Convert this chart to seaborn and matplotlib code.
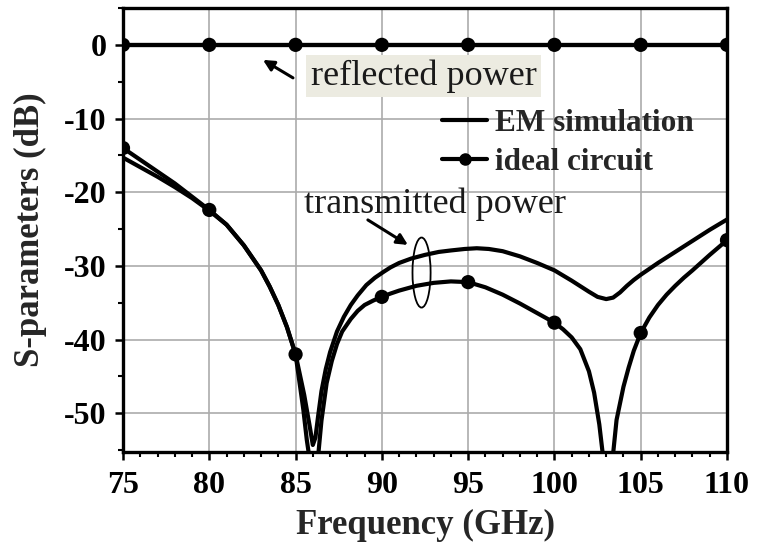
import matplotlib
matplotlib.use("Agg")
import matplotlib.pyplot as plt
import seaborn as sns
from matplotlib.patches import Ellipse
from matplotlib.lines import Line2D
from matplotlib.ticker import MultipleLocator

# ---------------- data ----------------
# EM simulation, transmitted power
freq_em = [75, 76, 77, 78, 79, 80, 81, 82, 83, 83.5, 84, 84.5, 85, 85.5, 85.8,
           86.0, 86.15, 86.3, 86.5, 86.75, 87.0, 87.4, 87.8, 88.2, 88.6, 89.1,
           89.6, 90.1, 90.5, 91.0, 91.7, 92.5, 93.3, 94.0, 94.8, 95.5, 96.2,
           97.0, 98.0, 99.0, 100.0, 101.0, 102.0, 102.5, 103.0, 103.4, 103.8,
           104.2, 104.6, 105.0, 106.0, 107.0, 108.0, 109.0, 110.0]
s21_em = [-15.3, -16.6, -17.9, -19.3, -20.8, -22.5, -24.4, -27.2, -30.6, -32.8,
          -35.3, -38.3, -42.0, -47.5, -51.5, -54.3, -53.3, -50.5, -47.0, -44.0,
          -41.7, -38.9, -36.9, -35.3, -34.0, -32.6, -31.6, -30.8, -30.2, -29.6,
          -29.0, -28.5, -28.1, -27.9, -27.7, -27.6, -27.7, -28.0, -28.7, -29.6,
          -30.6, -32.0, -33.5, -34.2, -34.5, -34.3, -33.6, -32.7, -31.9, -31.2,
          -29.6, -28.1, -26.6, -25.1, -23.7]

# ideal circuit, transmitted power
freq_ideal = [75, 76, 77, 78, 79, 80, 81, 82, 83, 83.5, 84, 84.5, 85, 85.45,
              85.65, 85.8, 86.05, 86.3, 86.5, 86.8, 87.1, 87.4, 87.7, 88.2,
              88.6, 89.0, 89.5, 90.0, 90.5, 91.0, 92.0, 93.0, 94.0, 95.0, 96.0,
              97.0, 98.0, 99.0, 100.0, 100.5, 101.0, 101.5, 102.0, 102.3,
              102.6, 102.8, 103.1, 103.4, 103.6, 104.0, 104.3, 104.6, 105.0,
              105.5, 106.0, 106.5, 107.0, 107.5, 108.0, 108.5, 109.0, 109.5,
              110.0]
s21_ideal = [-14.0, -15.6, -17.2, -18.8, -20.6, -22.4, -24.4, -27.2, -30.6,
             -32.8, -35.3, -38.3, -42.0, -49.5, -53.6, -56.0, -65.0, -56.0,
             -51.0, -45.9, -42.9, -40.6, -38.9, -37.2, -36.1, -35.3, -34.7,
             -34.2, -33.75, -33.35, -32.7, -32.3, -32.1, -32.2, -32.9, -33.9,
             -35.1, -36.4, -37.7, -38.6, -39.7, -41.3, -44.3, -47.2, -51.5,
             -55.5, -65.0, -55.5, -50.9, -46.4, -43.8, -41.5, -39.1, -37.0,
             -35.3, -33.9, -32.7, -31.6, -30.6, -29.55, -28.5, -27.5, -26.5]

# marker positions of the ideal circuit
freq_marks = [75, 80, 85, 90, 95, 100, 105, 110]
s21_ideal_marks = [-14.0, -22.4, -42.0, -34.2, -32.2, -37.7, -39.1, -26.5]
s11_ideal_marks = [0.0, 0.0, 0.0, 0.0, 0.0, 0.0, 0.0, 0.0]

# reflected power
freq_refl = [75, 110]
s11_em = [0.0, 0.0]
s11_ideal = [0.0, 0.0]

xtick_vals = [75, 80, 85, 90, 95, 100, 105, 110]
xtick_labels = ["75", "80", "85", "90", "95", "100", "105", "110"]
ytick_vals = [0, -10, -20, -30, -40, -50]
ytick_labels = ["0", "-10", "-20", "-30", "-40", "-50"]

legend_labels = ["EM simulation", "ideal circuit"]

# ---------------- style ----------------
sns.set_style("ticks")
plt.rcParams["font.family"] = ["Liberation Serif", "DejaVu Serif"]
plt.rcParams["axes.unicode_minus"] = False

W, H = 757, 545
fig = plt.figure(figsize=(W / 100, H / 100), dpi=100)
ax = fig.add_axes([123 / W, 1 - 452 / H, (727 - 123) / W, (452 - 8) / H])

LW = 3.0
sns.lineplot(x=freq_refl, y=s11_em, ax=ax, color="black", lw=LW,
             sort=False, estimator=None, zorder=3)
sns.lineplot(x=freq_refl, y=s11_ideal, ax=ax, color="black", lw=LW,
             sort=False, estimator=None, zorder=3)
sns.scatterplot(x=freq_marks, y=s11_ideal_marks, ax=ax, color="black",
                s=105, edgecolor="none", zorder=4)

sns.lineplot(x=freq_em, y=s21_em, ax=ax, color="black", lw=LW,
             sort=False, estimator=None, zorder=3)
sns.lineplot(x=freq_ideal, y=s21_ideal, ax=ax, color="black", lw=LW,
             sort=False, estimator=None, zorder=3)
sns.scatterplot(x=freq_marks, y=s21_ideal_marks, ax=ax, color="black",
                s=105, edgecolor="none", zorder=4)

ax.set_xlim(75, 110)
ax.set_ylim(-55.25, 5.0)

ax.set_xticks(xtick_vals)
ax.set_xticklabels(xtick_labels, fontweight="bold")
ax.set_yticks(ytick_vals)
ax.set_yticklabels(ytick_labels, fontweight="bold")
ax.xaxis.set_minor_locator(MultipleLocator(1))
ax.yaxis.set_minor_locator(MultipleLocator(5))

ax.tick_params(axis="both", which="major", direction="out", length=6,
               width=1.8, labelsize=23, color="black", labelcolor="black")
ax.tick_params(axis="x", which="major", pad=8)
ax.tick_params(axis="y", which="major", pad=6)
ax.tick_params(axis="both", which="minor", direction="out", length=3.5,
               width=1.5, color="black")
ax.tick_params(top=False, right=False, which="both")

for s in ax.spines.values():
    s.set_visible(True)
    s.set_linewidth(2.4)
    s.set_color("black")

ax.grid(True, which="major", color="#ababab", lw=1.2)
ax.set_axisbelow(True)

ax.set_xlabel("Frequency (GHz)", fontsize=25, fontweight="bold", labelpad=6)
ax.set_ylabel("S-parameters (dB)", fontsize=25, fontweight="bold", labelpad=12)

# annotations
ax.text(92.41, -4.21, "reflected power", fontsize=26, ha="center", va="center",
        color="#1a1a1a", zorder=5,
        bbox=dict(boxstyle="square,pad=0.12", fc="#ECEBE1", ec="none"))
ax.annotate("", xy=(83.11, -2.04), xytext=(84.85, -4.48),
            arrowprops=dict(arrowstyle="-|>", color="black", lw=2.2,
                            mutation_scale=16, shrinkA=0, shrinkB=0), zorder=5)

ax.text(93.08, -21.6, "transmitted power", fontsize=26, ha="center",
        va="center", color="#1a1a1a", zorder=5)
ax.annotate("", xy=(91.51, -27.15), xytext=(89.19, -23.76),
            arrowprops=dict(arrowstyle="-|>", color="black", lw=2.2,
                            mutation_scale=16, shrinkA=0, shrinkB=0), zorder=5)
ax.add_patch(Ellipse((92.3, -30.9), 1.05, 9.5, fill=False, ec="black",
                     lw=1.3, zorder=5))

handles = [Line2D([], [], color="black", lw=LW),
           Line2D([], [], color="black", lw=LW, marker="o", ms=8)]
ax.legend(handles, legend_labels, loc="upper left",
          bbox_to_anchor=(442 / W, 1 - 109 / H), bbox_transform=fig.transFigure,
          frameon=False, borderpad=0, borderaxespad=0, handlelength=1.44,
          handletextpad=0.26, labelspacing=0.32,
          prop={"weight": "bold", "size": 22.5})

fig.savefig("out.png", dpi=100)
